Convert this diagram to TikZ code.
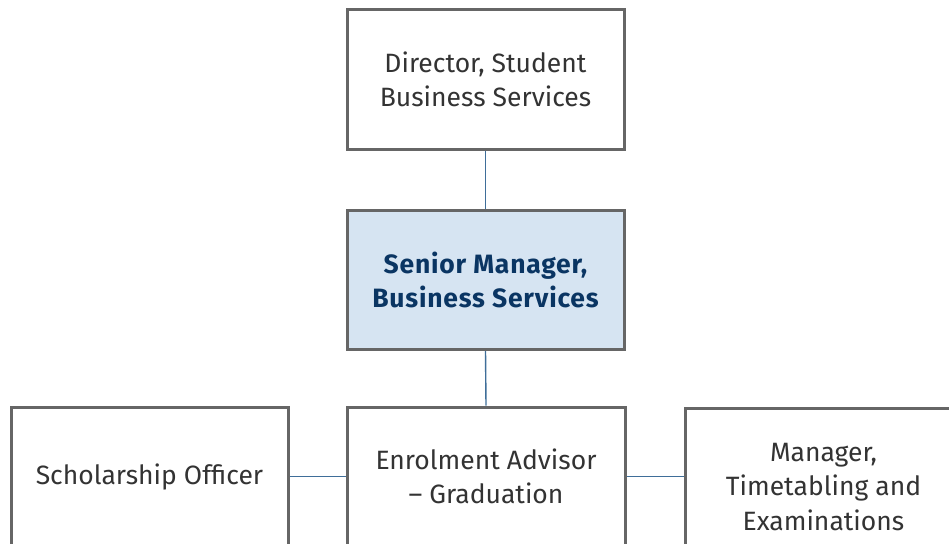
\documentclass[tikz,border=0pt]{standalone}
\usepackage{fontspec}
\setmainfont{Fira Sans}
\definecolor{boxline}{HTML}{666666}
\definecolor{linkline}{HTML}{3F6E99}
\definecolor{hilite}{HTML}{D6E4F2}
\definecolor{navytext}{HTML}{0A3563}
\definecolor{bodytext}{HTML}{333333}
\begin{document}
\begin{tikzpicture}[x=1pt,y=-1pt,
  orgbox/.style={draw=boxline, line width=3pt, fill=white, rectangle,
    minimum width=277pt, minimum height=139pt, inner sep=0pt,
    align=center, text=bodytext,
    font=\fontsize{26.5}{34.5}\selectfont},
  keybox/.style={orgbox, fill=hilite, text=navytext,
    font=\fontsize{26.5}{33.5}\selectfont\bfseries\addfontfeatures{LetterSpace=3}},
  link/.style={draw=linkline, line width=1.4pt}]
  \useasboundingbox (0,0) rectangle (949,543);
  \clip (0,0) rectangle (949,543);
  % chain of command
  \node[orgbox] (director) at (485.5,79.5) {Director, Student\\Business Services};
  \node[keybox] (senior) at (485.5,280) {Senior Manager,\\Business Services};
  % reporting roles
  \node[orgbox] (scholar) at (149.5,476.5) {Scholarship Officer};
  \node[orgbox, minimum width=278pt] (enrol) at (486,476.5) {Enrolment Advisor\\– Graduation};
  \node[orgbox, minimum height=158pt] (timetable) at (823.5,487) {Manager,\\Timetabling and\\Examinations};
  % connectors
  \draw[link] (director.south) -- (senior.north);
  \draw[link] (senior.south) -- (enrol.north);
  \draw[link] (scholar.east) -- (enrol.west);
  \draw[link] (enrol.east) -- (enrol.east -| timetable.west);
\end{tikzpicture}
\end{document}
